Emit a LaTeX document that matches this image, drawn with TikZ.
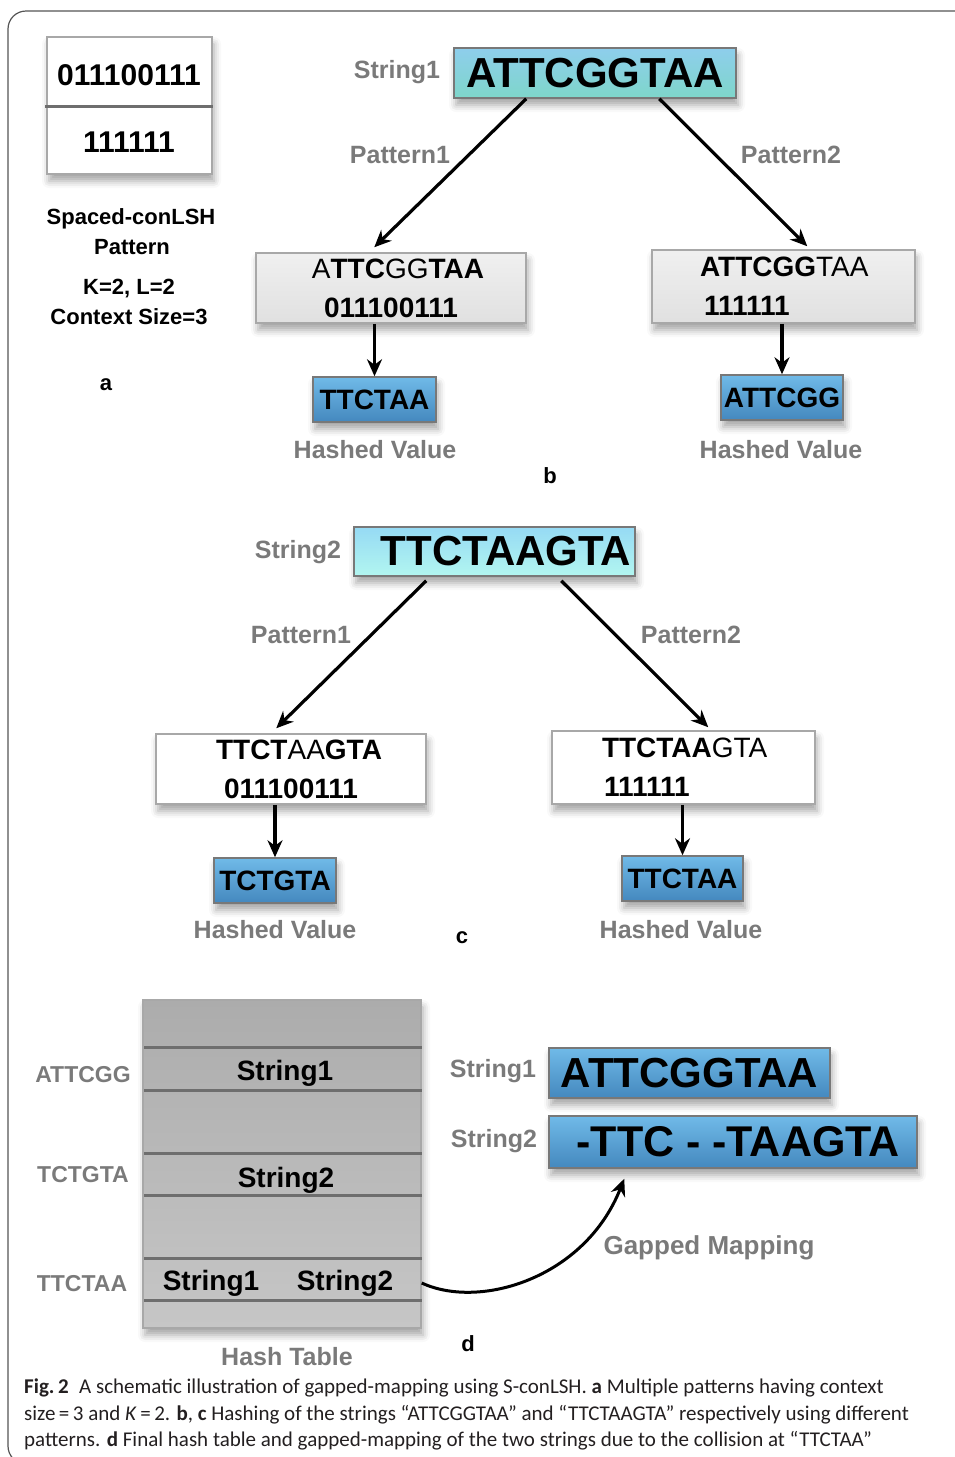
\documentclass[tikz,border=0pt]{standalone}
\usepackage{fontspec}
\setmainfont{Liberation Sans}
\newfontfamily\capfont{Carlito}
\usetikzlibrary{arrows.meta,shadows.blur,calc}
\definecolor{lblgray}{RGB}{122,122,122}
\definecolor{framecol}{RGB}{85,85,85}
\definecolor{boxedge}{RGB}{120,120,120}
\definecolor{patedge}{RGB}{168,168,168}
\definecolor{topAt}{RGB}{142,206,236}
\definecolor{topAb}{RGB}{126,214,202}
\definecolor{topBt}{RGB}{150,218,244}
\definecolor{topBb}{RGB}{178,246,240}
\definecolor{hasht}{RGB}{112,186,232}
\definecolor{hashb}{RGB}{68,136,190}
\definecolor{tabt}{RGB}{172,172,172}
\definecolor{tabb}{RGB}{198,198,198}
\definecolor{rowline}{RGB}{110,110,110}
\definecolor{captext}{RGB}{35,31,32}
\tikzset{
  lbl/.style={text=lblgray, font=\bfseries\fontsize{25}{30}\selectfont, inner sep=0},
  blk/.style={text=black, font=\bfseries\fontsize{22}{27}\selectfont, inner sep=0, align=center},
  shad/.style={blur shadow={shadow xshift=2pt, shadow yshift=-7pt, shadow blur radius=7pt, shadow opacity=35}},
  seqtop/.style={draw=boxedge, line width=1.5pt, inner sep=0, font=\bfseries\fontsize{42}{48}\selectfont, shad},
  patbox/.style={draw=patedge, line width=1.5pt, inner sep=0, font=\fontsize{28}{39}\selectfont, shad},
  hashbox/.style={draw=boxedge, line width=1.5pt, inner sep=0, font=\bfseries\fontsize{28}{32}\selectfont, top color=hasht, bottom color=hashb, shad},
  arr/.style={line width=3.2pt, -{Stealth[length=17pt,width=15pt]}},
  capline/.style={anchor=base west, inner sep=0, text=captext, font=\capfont\fontsize{21}{25}\selectfont}
}
\begin{document}
\begin{tikzpicture}[x=1pt,y=-1pt]
\useasboundingbox (0,0) rectangle (955,1457);
% frame
\draw[framecol, line width=1.2pt, rounded corners=18pt] (40,1464) -- (8,1464) -- (8,11) -- (975,11);

% ---------- panel a
\node[draw=patedge, fill=white, line width=1.5pt, minimum width=165pt, minimum height=137pt, inner sep=0, shad] (boxa) at (129.5,105.5) {};
\draw[rowline, line width=3pt] (45,106) -- (213,106);
\node[blk, font=\bfseries\fontsize{30}{34}\selectfont] (pa1) at (129,75) {011100111};
\node[blk, font=\bfseries\fontsize{30}{34}\selectfont] (pa2) at (129,142) {111111};
\node[blk] (sp1) at (131,219) {Spaced-conLSH};
\node[blk] (sp2) at (132,247) {Pattern};
\node[blk] (kl1) at (129,289) {K=2, L=2};
\node[blk] (kl2) at (129,317) {Context Size=3};
\node[blk] (la) at (106,385) {a};

% ---------- panel b
\node[lbl] (s1b) at (397,72) {String1};
\node[seqtop, top color=topAt, bottom color=topAb, minimum width=282pt, minimum height=50pt] (t1) at (595,73) {ATTCGGTAA};
\node[patbox, top color=white!94!black, bottom color=white!88!black, minimum width=270pt, minimum height=70pt, align=center] (b1) at (391,288) {\hspace*{14pt}A\textbf{TTC}GG\textbf{TAA}\\\textbf{011100111}};
\node[patbox, top color=white!94!black, bottom color=white!88!black, minimum height=73pt, text width=263pt, align=left] (b2) at (783.5,286.5) {\hspace*{48pt}\textbf{ATTCGG}TAA\\\hspace*{52pt}\textbf{111111}};
\node[hashbox, minimum width=123pt, minimum height=45pt] (h1) at (374.5,399.5) {TTCTAA};
\node[hashbox, minimum width=122pt, minimum height=45pt] (h2) at (782,397.5) {ATTCGG};
\draw[arr] ($(t1.south west)+(73,0)$) -- ($(b1.north west)+(119,-5)$);
\draw[arr] ($(t1.south west)+(206,0)$) -- ($(b2.north west)+(156,-3)$);
\node[lbl] (p1b) at (400,155) {Pattern1};
\node[lbl] (p2b) at (791,155) {Pattern2};
\draw[arr] (h1.north |- b1.south) -- (h1.north);
\draw[arr] (h2.north |- b2.south) -- (h2.north);
\node[lbl] (hv1) at (375,450) {Hashed Value};
\node[lbl] (hv2) at (781,450) {Hashed Value};
\node[blk] (lb) at (550,476) {b};

% ---------- panel c
\node[lbl] (s2c) at (298,552) {String2};
\node[seqtop, top color=topBt, bottom color=topBb, minimum width=281pt, minimum height=49pt] (t2) at (494.5,551.5) {\hspace*{23pt}TTCTAAGTA};
\node[patbox, fill=white, minimum width=270pt, minimum height=70pt, align=center] (c1) at (291,769) {\hspace*{16pt}\textbf{TTCT}AA\textbf{GTA}\\\textbf{011100111}};
\node[patbox, fill=white, minimum height=73pt, text width=263pt, align=left] (c2) at (683.5,767.5) {\hspace*{50pt}\textbf{TTCTAA}GTA\\\hspace*{52pt}\textbf{111111}};
\node[hashbox, minimum width=122pt, minimum height=45pt] (h3) at (275,880.5) {TCTGTA};
\node[hashbox, minimum width=121pt, minimum height=45pt] (h4) at (682.5,878.5) {TTCTAA};
\draw[arr] ($(t2.south west)+(73,4)$) -- ($(c1.north west)+(121,-5)$);
\draw[arr] ($(t2.south west)+(208,4)$) -- ($(c2.north west)+(157,-3)$);
\node[lbl] (p1c) at (301,635) {Pattern1};
\node[lbl] (p2c) at (691,635) {Pattern2};
\draw[arr] (h3.north |- c1.south) -- (h3.north);
\draw[arr] (h4.north |- c2.south) -- (h4.north);
\node[lbl] (hv3) at (275,930) {Hashed Value};
\node[lbl] (hv4) at (681,930) {Hashed Value};
\node[blk] (lc) at (462,938) {c};

% ---------- panel d
\node[draw=patedge, line width=1.5pt, top color=tabt, bottom color=tabb, minimum width=278pt, minimum height=328pt, inner sep=0, shad] (tab) at (282,1164) {};
\foreach \yy in {1047,1090,1153,1195,1258,1300}{
  \draw[rowline, line width=3pt] (144,\yy) -- (422,\yy);
}
\node[blk, font=\bfseries\fontsize{28}{32}\selectfont] (r1) at (285,1073) {String1};
\node[blk, font=\bfseries\fontsize{28}{32}\selectfont] (r2) at (286,1180) {String2};
\node[blk, font=\bfseries\fontsize{28}{32}\selectfont] (r3a) at (211,1283) {String1};
\node[blk, font=\bfseries\fontsize{28}{32}\selectfont] (r3b) at (345,1283) {String2};
\node[lbl, font=\bfseries\fontsize{23}{28}\selectfont] (k1) at (83,1075) {ATTCGG};
\node[lbl, font=\bfseries\fontsize{23}{28}\selectfont] (k2) at (83,1175) {TCTGTA};
\node[lbl, font=\bfseries\fontsize{23}{28}\selectfont] (k3) at (82,1284) {TTCTAA};
\node[lbl] (ht) at (287,1357) {Hash Table};
\node[blk] (ld) at (468,1344) {d};
\node[lbl] (s1d) at (493,1071) {String1};
\node[lbl] (s2d) at (494,1141) {String2};
\node[seqtop, top color=hasht, bottom color=hashb, minimum width=281pt, minimum height=50pt] (g1) at (689.5,1073) {ATTCGGTAA};
\node[seqtop, font=\bfseries\fontsize{43}{48}\selectfont, top color=hasht, bottom color=hashb, minimum width=368pt, minimum height=52pt] (g2) at (733,1142) {\hspace*{10pt}-TTC - -TAAGTA};
\draw[line width=3pt, -{Stealth[length=17pt,width=15pt]}] (tab.east |- r3b) .. controls (480,1310) and (585,1278) .. ($(g2.south west)+(76,10)$);
\node[lbl, font=\bfseries\fontsize{26}{30}\selectfont] (gm) at (709,1248) {Gapped Mapping};

% ---------- caption
\node[capline] (cap1) at (24,1393) {\textbf{Fig.\,2}\enspace A schematic illustration of gapped-mapping using S-conLSH. \textbf{a} Multiple patterns having context};
\node[capline] (cap2) at (24,1420) {size\,=\,3 and \textit{K}\,=\,2. \textbf{b}, \textbf{c} Hashing of the strings “ATTCGGTAA” and “TTCTAAGTA” respectively using different};
\node[capline] (cap3) at (24,1446) {patterns. \textbf{d} Final hash table and gapped-mapping of the two strings due to the collision at “TTCTAA”};
\end{tikzpicture}
\end{document}
